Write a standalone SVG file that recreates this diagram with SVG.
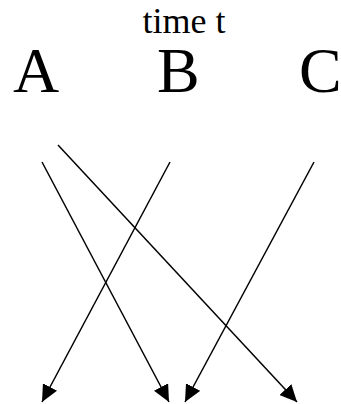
<svg xmlns="http://www.w3.org/2000/svg" width="341" height="404" viewBox="0 0 341 404">
<style>
.t{font-family:"Liberation Serif","Times New Roman",serif;fill:#000}
.big{font-size:64px}
.c line{stroke:#000;stroke-width:1.5;fill:none;marker-end:url(#ah)}
</style>
<defs>
<marker id="ah" markerUnits="userSpaceOnUse" markerWidth="18" markerHeight="16" refX="17" refY="8" orient="auto">
<path d="M0,0 L17,8 L0,16 Z" fill="#000"/>
</marker>
</defs>
<rect width="341" height="404" fill="#fff"/>
<g id="title"><text class="t" x="184" y="33" font-size="36" text-anchor="middle">time t</text></g>
<g id="A"><text class="t big" x="13" y="92">A</text></g>
<g id="B"><text class="t big" x="157" y="92">B</text></g>
<g id="C"><text class="t big" x="299" y="92">C</text></g>
<g class="c" id="connectors">
<line x1="42" y1="162" x2="169" y2="402"/>
<line x1="58" y1="145" x2="297" y2="402"/>
<line x1="170" y1="162" x2="42" y2="402"/>
<line x1="314" y1="162" x2="185" y2="402"/>
</g>
</svg>
